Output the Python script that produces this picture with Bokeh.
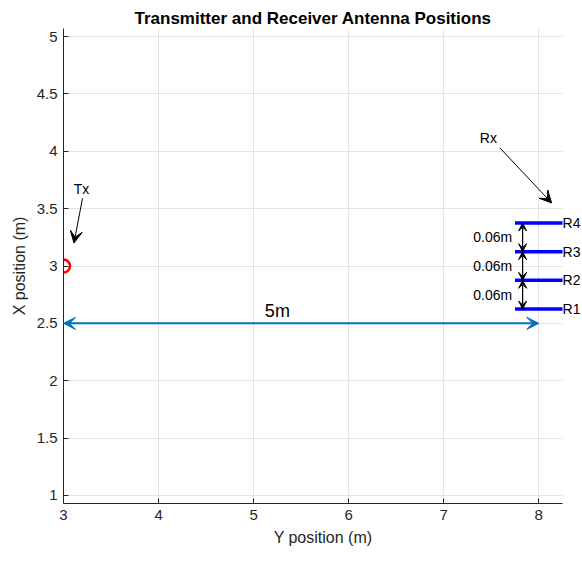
from bokeh.plotting import figure
from bokeh.models import (Arrow, VeeHead, FixedTicker, NumeralTickFormatter,
                          ColumnDataSource, LabelSet, Label, Range1d)
from bokeh.embed import file_html
from bokeh.resources import INLINE
from bokeh.core.properties import value

# ---- data ----
tx_x = [3.0]
tx_y = [3.0]
rx_names = ["R1", "R2", "R3", "R4"]
rx_y = [2.625, 2.875, 3.125, 3.375]
rx_x0 = [7.75, 7.75, 7.75, 7.75]
rx_x1 = [8.25, 8.25, 8.25, 8.25]
dist_x = [3.0, 8.0]
dist_y = 2.5
dist_label = "5m"
spacing_label = "0.06m"
x_ticks = [3, 4, 5, 6, 7, 8]
y_ticks = [1, 1.5, 2, 2.5, 3, 3.5, 4, 4.5, 5]
x_lim = (3, 8.25)
y_lim = (0.93, 5.07)

FONT = "Liberation Sans"
TXT = "#262626"

# frame extends a bit past x_lim so the R labels are not clipped;
# the axis and grid are bounded to x_lim
p = figure(width=582, height=565, output_backend="svg", toolbar_location=None,
           x_range=Range1d(x_lim[0], 8.46), y_range=Range1d(*y_lim),
           min_border_left=63, min_border_right=0, min_border_top=28,
           min_border_bottom=62,
           title="Transmitter and Receiver Antenna Positions",
           x_axis_label="Y position (m)", y_axis_label="X position (m)")

p.title.text_font = FONT
p.title.text_font_size = "17px"
p.title.text_font_style = "bold"
p.title.align = "left"
p.title.offset = 71
p.title.standoff = 2
p.title.text_color = "black"
p.outline_line_color = None
p.background_fill_color = "white"

for ax in (p.xaxis[0], p.yaxis[0]):
    ax.major_tick_in = 5
    ax.major_tick_out = 0
    ax.minor_tick_line_color = None
    ax.axis_line_color = TXT
    ax.major_tick_line_color = TXT
    ax.major_label_text_font = FONT
    ax.major_label_text_font_size = "15px"
    ax.major_label_text_color = TXT
    ax.axis_label_text_font = FONT
    ax.axis_label_text_font_size = "16px"
    ax.axis_label_text_font_style = "normal"
    ax.axis_label_text_color = TXT
    ax.major_label_standoff = 6
    ax.axis_label_standoff = 6
    ax.formatter = NumeralTickFormatter(format="0.[0]")

p.xaxis[0].ticker = FixedTicker(ticks=x_ticks)
p.xaxis[0].bounds = x_lim
p.yaxis[0].ticker = FixedTicker(ticks=y_ticks)
p.grid.grid_line_color = "#e3e3e3"
p.grid.grid_line_width = 1

try:
    p.ygrid[0].cross_bounds = x_lim
except Exception:
    p.ygrid[0].grid_line_color = None
    p.segment(x0=[x_lim[0]] * len(y_ticks), y0=y_ticks,
              x1=[x_lim[1]] * len(y_ticks), y1=y_ticks,
              line_color="#e3e3e3", line_width=1, level="underlay")

# distance arrow (blue)
blue = "#0072BD"
p.add_layout(Arrow(x_start=dist_x[0], y_start=dist_y, x_end=dist_x[1], y_end=dist_y,
                   line_color=blue, line_width=2,
                   start=VeeHead(size=12, fill_color=blue, line_color=blue),
                   end=VeeHead(size=12, fill_color=blue, line_color=blue)))
p.add_layout(Label(x=(dist_x[0] + dist_x[1]) / 2 - 0.25, y=dist_y + 0.11, text=dist_label,
                   text_font=FONT, text_font_size="18px", text_color="black",
                   text_align="center", text_baseline="middle"))

# Rx antenna bars
p.segment(x0=rx_x0, y0=rx_y, x1=rx_x1, y1=rx_y, line_color="blue", line_width=3.5)

# spacing double arrows
arr_src = ColumnDataSource(dict(xs=[7.83] * 3, ys=rx_y[:-1], ye=rx_y[1:]))
p.add_layout(Arrow(x_start="xs", y_start="ys", x_end="xs", y_end="ye", source=arr_src,
                   line_color="black", line_width=1.2,
                   start=VeeHead(size=8, fill_color="black", line_color="black"),
                   end=VeeHead(size=8, fill_color="black", line_color="black")))
mid_src = ColumnDataSource(dict(x=[7.72] * 3,
                                y=[(a + b) / 2 for a, b in zip(rx_y[:-1], rx_y[1:])],
                                t=[spacing_label] * 3))
p.add_layout(LabelSet(x="x", y="y", text="t", source=mid_src, text_font=value(FONT),
                      text_font_size="14px", text_color="black",
                      text_align="right", text_baseline="middle"))

# R labels
r_src = ColumnDataSource(dict(x=rx_x1, y=rx_y, t=rx_names))
p.add_layout(LabelSet(x="x", y="y", text="t", source=r_src, text_font=value(FONT),
                      text_font_size="14px", text_color="black",
                      text_align="left", text_baseline="middle"))

# Tx marker
p.scatter(tx_x, tx_y, marker="circle", size=13, fill_color=None, line_color="red",
          line_width=2.5)

# Tx annotation arrow
p.add_layout(Arrow(x_start=3.2, y_start=3.59, x_end=3.11, y_end=3.2, line_color="black",
                   line_width=1, end=VeeHead(size=12, fill_color="black", line_color="black")))
p.add_layout(Label(x=3.19, y=3.67, text="Tx", text_font=FONT, text_font_size="14px",
                   text_color="black", text_align="center", text_baseline="middle"))

# Rx annotation arrow
p.add_layout(Arrow(x_start=7.59, y_start=4.03, x_end=8.135, y_end=3.55, line_color="black",
                   line_width=1, end=VeeHead(size=12, fill_color="black", line_color="black")))
p.add_layout(Label(x=7.47, y=4.115, text="Rx", text_font=FONT, text_font_size="14px",
                   text_color="black", text_align="center", text_baseline="middle"))

open("out.html", "w").write(file_html(p, INLINE))
